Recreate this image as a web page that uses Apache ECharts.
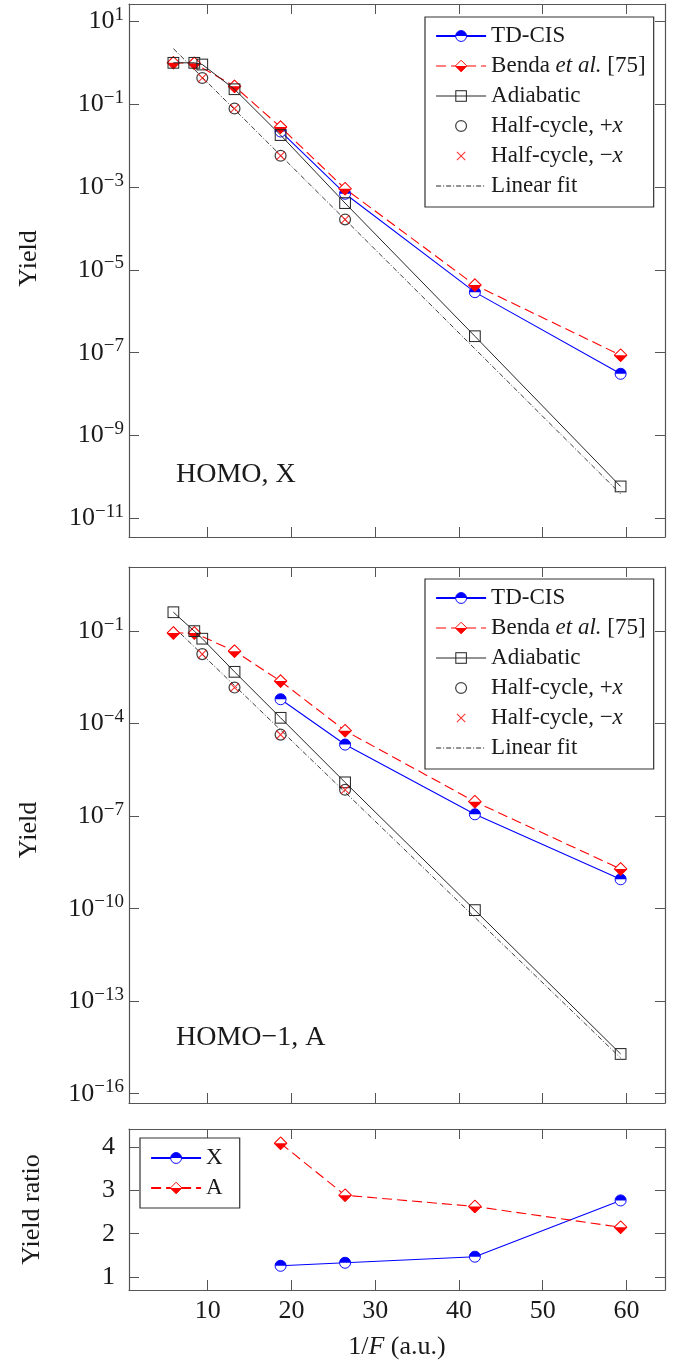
<!DOCTYPE html>
<html><head><meta charset="utf-8">
<script src="https://cdn.jsdelivr.net/npm/echarts@6/dist/echarts.min.js"></script>
<style>html,body{margin:0;padding:0;background:#fff}#c{width:673px;height:1364px}</style>
</head><body><div id="c"></div>
<script>
// ---------------- data ----------------
const xBenda      = [5.9, 8.4, 13.2, 18.7, 26.4, 41.9, 59.3];
const xAdiabatic  = [5.9, 8.4, 9.35, 13.2, 18.7, 26.4, 41.9, 59.3];
const xHalfCycle  = [9.35, 13.2, 18.7, 26.4];
const xTdcis      = [18.7, 26.4, 41.9, 59.3];
const xFit        = [5.9, 59.3];

const homoX_tdcis     = [0.022, 6.9e-4, 2.9e-6, 3.1e-8];
const homoX_benda     = [1.0, 0.97, 0.27, 0.028, 9.1e-4, 4.3e-6, 8.7e-8];
const homoX_adiabatic = [1.0, 1.0, 0.91, 0.23, 0.018, 4.1e-4, 2.5e-7, 5.9e-11];
const homoX_halfPlus  = [0.43, 0.079, 0.0057, 1.65e-4];
const homoX_halfMinus = [0.43, 0.079, 0.0057, 1.65e-4];
const homoX_fit       = [2.2, 3.9e-11];

const homo1A_tdcis     = [6.2e-4, 2.1e-5, 1.15e-7, 9.0e-10];
const homo1A_benda     = [0.087, 0.087, 0.0225, 2.4e-3, 5.9e-5, 2.95e-7, 1.95e-9];
const homo1A_adiabatic = [0.41, 0.1, 0.057, 4.8e-3, 1.55e-4, 1.25e-6, 9.0e-11, 1.95e-15];
const homo1A_halfPlus  = [0.018, 1.48e-3, 4.4e-5, 7.2e-7];
const homo1A_halfMinus = [0.018, 1.48e-3, 4.4e-5, 7.2e-7];
const homo1A_fit       = [0.14, 1.45e-15];

const ratioX = [1.26, 1.33, 1.47, 2.77];
const ratioA = [4.09, 2.89, 2.63, 2.15];

const xTicks      = [10, 20, 30, 40, 50, 60];
const yExpTicksX  = [1, -1, -3, -5, -7, -9, -11];
const yExpTicksA  = [-1, -4, -7, -10, -13, -16];
const yTicksRatio = [1, 2, 3, 4];

const panelLabels = ['HOMO, X', 'HOMO\u22121, A'];
const legendNames = ['TD-CIS', 'Benda et al. [75]', 'Adiabatic', 'Half-cycle, +x', 'Half-cycle, \u2212x', 'Linear fit'];
const ratioNames  = ['X', 'A'];

// ---------------- style ----------------
const FONT = 'Liberation Serif';
const TXT = '#1a1a1a';
const FRAME = '#555555';
const BLUE = '#0000ff', RED = '#ff0000', BLACK = '#262626';
const X_MIN = 0.6, X_MAX = 64.6;
const yRanges = [[-11.45, 1.42], [-16.3, 1.08], [0.7, 4.42]];

function svg(body, vb) {
  return 'image://data:image/svg+xml;charset=utf-8,' + encodeURIComponent(
    '<svg xmlns="http://www.w3.org/2000/svg" width="' + vb + '" height="' + vb + '" viewBox="0 0 ' + vb + ' ' + vb + '">' + body + '</svg>');
}
const SYM_HALF_CIRCLE = svg(
  '<circle cx="20" cy="20" r="17" fill="#fff"/>' +
  '<path d="M3,20 A17,17 0 0 1 37,20 Z" fill="#00f"/>' +
  '<circle cx="20" cy="20" r="17" fill="none" stroke="#00f" stroke-width="3"/>', 40);
const SYM_HALF_DIAMOND = svg(
  '<path d="M20,2 L38,20 L20,38 L2,20 Z" fill="#fff"/>' +
  '<path d="M2,20 L38,20 L20,38 Z" fill="#f00"/>' +
  '<path d="M20,2 L38,20 L20,38 L2,20 Z" fill="none" stroke="#f00" stroke-width="3"/>', 40);
const SYM_SQUARE = svg('<rect x="3.5" y="3.5" width="33" height="33" fill="none" stroke="#262626" stroke-width="3.2"/>', 40);
const SYM_CIRCLE = svg('<circle cx="25" cy="25" r="17" fill="none" stroke="#111" stroke-width="3.8"/>', 50);
const SYM_CROSS = svg('<path d="M12,12 L38,38 M38,12 L12,38" fill="none" stroke="#f00" stroke-width="3.4"/>', 50);

function lg(v) { return Math.log10(v); }
function pts(xs, ys, useLog) { return xs.map((x, i) => [x, useLog ? lg(ys[i]) : ys[i]]); }
function expLabel(v) {
  const e = Math.round(v);
  return '{b|10}{s|' + (e < 0 ? '\u2212' + (-e) : String(e)) + '}';
}

const frameLine = { show: true, onZero: false, lineStyle: { color: FRAME, width: 1.2 } };
const yNamePad = [[0, 0, 0, 24], [0, 0, 0, 10], [0, 0, 0, 0]];

const xAxes = [], yAxes = [];
for (let g = 0; g < 3; g++) {
  const common = {
    type: 'value', gridIndex: g, min: X_MIN, max: X_MAX,
    splitLine: { show: false }, axisLine: frameLine,
    axisTick: { show: true, inside: true, length: 10, customValues: xTicks, lineStyle: { color: FRAME, width: 1 } }
  };
  const bottom = Object.assign({}, common, {
    position: 'bottom',
    axisLabel: g === 2 ? { show: true, customValues: xTicks, margin: 8, fontFamily: FONT, fontSize: 26, fontWeight: 'normal', color: TXT } : { show: false }
  });
  if (g === 2) {
    bottom.name = '1/{i|F} (a.u.)';
    bottom.nameLocation = 'middle';
    bottom.nameGap = 44;
    bottom.nameTextStyle = { fontFamily: FONT, fontSize: 26, fontWeight: 'normal', color: TXT,
      rich: { i: { fontFamily: FONT, fontSize: 26, fontWeight: 'normal', fontStyle: 'italic', color: TXT } } };
  }
  xAxes.push(bottom);
  xAxes.push(Object.assign({}, common, { position: 'top', axisLabel: { show: false } }));

  const ticks = g === 0 ? yExpTicksX : g === 1 ? yExpTicksA : yTicksRatio;
  const ycommon = {
    type: 'value', gridIndex: g, min: yRanges[g][0], max: yRanges[g][1],
    splitLine: { show: false }, axisLine: frameLine,
    axisTick: { show: true, inside: true, length: 10, customValues: ticks, lineStyle: { color: FRAME, width: 1 } }
  };
  const left = Object.assign({}, ycommon, {
    position: 'left',
    name: g === 2 ? 'Yield ratio' : 'Yield', nameLocation: 'middle', nameRotate: 90, nameGap: g === 2 ? 84 : 87,
    nameTextStyle: { fontFamily: FONT, fontSize: 26, fontWeight: 'normal', color: TXT, padding: yNamePad[g] },
    axisLabel: g === 2 ? { customValues: ticks, margin: 14, fontFamily: FONT, fontSize: 26, fontWeight: 'normal', color: TXT }
      : { customValues: ticks, margin: 5, formatter: expLabel,
          rich: { b: { fontFamily: FONT, fontSize: 26, fontWeight: 'normal', color: TXT, lineHeight: 32 },
                  s: { fontFamily: FONT, fontSize: 19, fontWeight: 'normal', color: TXT, lineHeight: 19, verticalAlign: 'top' } } }
  });
  yAxes.push(left);
  yAxes.push(Object.assign({}, ycommon, { position: 'right', axisLabel: { show: false } }));
}

function panelSeries(g, d) {
  const ax = { xAxisIndex: 2 * g, yAxisIndex: 2 * g };
  const noEmph = { emphasis: { disabled: true } };
  return [
    Object.assign({ type: 'line', name: legendNames[0], data: pts(xTdcis, d.tdcis, true), symbol: SYM_HALF_CIRCLE, symbolSize: 13,
      lineStyle: { color: BLUE, width: 1.1 }, itemStyle: { color: BLUE }, z: 3 }, ax, noEmph),
    Object.assign({ type: 'line', name: legendNames[1], data: pts(xBenda, d.benda, true), symbol: SYM_HALF_DIAMOND, symbolSize: 14,
      lineStyle: { color: RED, width: 1.1, type: [10, 5] }, itemStyle: { color: RED }, z: 4 }, ax, noEmph),
    Object.assign({ type: 'line', name: legendNames[2], data: pts(xAdiabatic, d.adiabatic, true), symbol: SYM_SQUARE, symbolSize: 13,
      lineStyle: { color: BLACK, width: 1 }, itemStyle: { color: BLACK }, z: 5 }, ax, noEmph),
    Object.assign({ type: 'scatter', name: legendNames[3], data: pts(xHalfCycle, d.halfPlus, true), symbol: SYM_CIRCLE, symbolSize: 16,
      itemStyle: { color: BLACK }, z: 6 }, ax, noEmph),
    Object.assign({ type: 'scatter', name: legendNames[4], data: pts(xHalfCycle, d.halfMinus, true), symbol: SYM_CROSS, symbolSize: 16,
      itemStyle: { color: RED }, z: 7 }, ax, noEmph),
    Object.assign({ type: 'line', name: legendNames[5], data: pts(xFit, d.fit, true), symbol: 'none',
      lineStyle: { color: BLACK, width: 0.9, type: [5, 2, 1, 2] }, itemStyle: { color: BLACK }, z: 2 }, ax, noEmph)
  ];
}

const series = [].concat(
  panelSeries(0, { tdcis: homoX_tdcis, benda: homoX_benda, adiabatic: homoX_adiabatic, halfPlus: homoX_halfPlus, halfMinus: homoX_halfMinus, fit: homoX_fit }),
  panelSeries(1, { tdcis: homo1A_tdcis, benda: homo1A_benda, adiabatic: homo1A_adiabatic, halfPlus: homo1A_halfPlus, halfMinus: homo1A_halfMinus, fit: homo1A_fit }),
  [
    { type: 'line', name: ratioNames[0], xAxisIndex: 4, yAxisIndex: 4, data: pts(xTdcis, ratioX, false), symbol: SYM_HALF_CIRCLE, symbolSize: 13,
      lineStyle: { color: BLUE, width: 1.1 }, itemStyle: { color: BLUE }, emphasis: { disabled: true } },
    { type: 'line', name: ratioNames[1], xAxisIndex: 4, yAxisIndex: 4, data: pts(xTdcis, ratioA, false), symbol: SYM_HALF_DIAMOND, symbolSize: 14,
      lineStyle: { color: RED, width: 1.1, type: [10, 5] }, itemStyle: { color: RED }, emphasis: { disabled: true } }
  ]
);

const legendRich = { i: { fontFamily: FONT, fontSize: 23, fontWeight: 'normal', fontStyle: 'italic', color: TXT, lineHeight: 24 } };
function fmtLegend(name) {
  if (name === 'Benda et al. [75]') return 'Benda {i|et al.} [75]';
  if (name === 'Half-cycle, +x') return 'Half-cycle, +{i|x}';
  if (name === 'Half-cycle, \u2212x') return 'Half-cycle, \u2212{i|x}';
  return name;
}
function legendCfg(data, left, top, padding, lineW) {
  return {
    orient: 'vertical', left: left, top: top, padding: padding, itemGap: 6, itemWidth: 50, itemHeight: 16,
    backgroundColor: '#fff', borderColor: '#333', borderWidth: 1.2, borderRadius: 0, selectedMode: false,
    lineStyle: { width: lineW },
    textStyle: { fontFamily: FONT, fontSize: 23, fontWeight: 'normal', color: TXT, lineHeight: 24, rich: legendRich },
    formatter: fmtLegend, data: data
  };
}
function mainLegendData() {
  return [
    { name: legendNames[0], lineStyle: { width: 2.2 } },
    { name: legendNames[1] },
    { name: legendNames[2] },
    { name: legendNames[3] },
    { name: legendNames[4] },
    { name: legendNames[5], itemStyle: { opacity: 0 } }
  ];
}

const option = {
  animation: false,
  backgroundColor: '#fff',
  grid: [
    { left: 129, top: 4, width: 536, height: 533, outerBoundsMode: 'none' },
    { left: 129, top: 567, width: 536, height: 536, outerBoundsMode: 'none' },
    { left: 129, top: 1129, width: 536, height: 161, outerBoundsMode: 'none' }
  ],
  xAxis: xAxes,
  yAxis: yAxes,
  legend: [
    legendCfg(mainLegendData(), 425, 17, [7, 8, 9, 10], 1.1),
    legendCfg(mainLegendData(), 425, 579, [7, 8, 9, 10], 1.1),
    legendCfg([{ name: ratioNames[0] }, { name: ratioNames[1] }], 140, 1138, [8, 17, 8, 10], 2.2)
  ],
  graphic: [
    { type: 'text', left: 176, top: 461, style: { text: panelLabels[0], font: '28px "Liberation Serif"', fill: TXT } },
    { type: 'text', left: 176, top: 1024, style: { text: panelLabels[1], font: '28px "Liberation Serif"', fill: TXT } }
  ],
  series: series
};

const chart = echarts.init(document.getElementById('c'), null, { renderer: 'canvas' });
chart.setOption(option);
</script>
</body></html>
